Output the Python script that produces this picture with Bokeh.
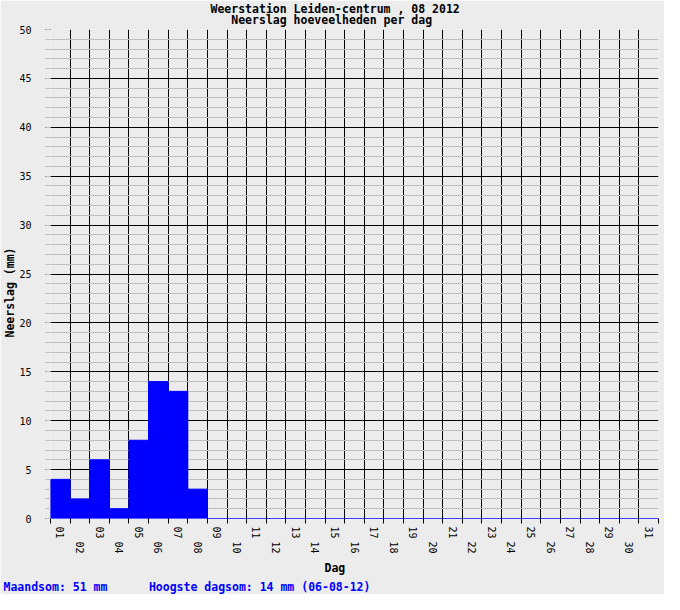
from bokeh.embed import file_html
from bokeh.models import FixedTicker, LinearAxis, Range1d, Title
from bokeh.plotting import figure
from bokeh.resources import INLINE

# neerslag per dag, augustus 2012 (mm)
dagen = list(range(1, 32))
neerslag = [4, 2, 6, 1, 8, 14, 13, 3, 0, 0,
            0, 0, 0, 0, 0, 0, 0, 0, 0, 0,
            0, 0, 0, 0, 0, 0, 0, 0, 0, 0, 0]
dag_labels = ["%02d" % d for d in dagen]
y_major = list(range(0, 51, 5))
y_minor = list(range(0, 51))

titel = "Weerstation Leiden-centrum , 08 2012"
subtitel = "Neerslag hoeveelheden per dag"
maand, jaar = "08", "12"

bg = "#ECECEC"
mono = "DejaVu Sans Mono"
nbsp = "\u00a0"

p = figure(width=664, height=594, x_range=Range1d(0.5, 31.5), y_range=Range1d(0, 50),
           output_backend="svg", toolbar_location=None,
           min_border_left=50, min_border_right=6, min_border_top=29, min_border_bottom=75,
           background_fill_color=bg, border_fill_color=bg)
p.outline_line_color = None

# grid: black day boundaries, black every 5 mm, grey every mm
grenzen = [d - 0.5 for d in dagen] + [dagen[-1] + 0.5]
p.xgrid.ticker = FixedTicker(ticks=grenzen)
p.xgrid.grid_line_color = "black"
p.ygrid.ticker = FixedTicker(ticks=y_major, minor_ticks=y_minor)
p.ygrid.grid_line_color = "black"
p.ygrid.minor_grid_line_color = "#BEBEBE"

p.vbar(x=dagen, top=neerslag, bottom=0, width=1, fill_color="#0000FF", line_color="#0000FF")

overrides = dict(zip(dagen, dag_labels))

# odd day labels (first row) with ticks on the boundaries
xa = p.xaxis[0]
xa.ticker = FixedTicker(ticks=dagen[0::2], minor_ticks=grenzen)
xa.major_label_overrides = overrides
xa.major_label_orientation = "vertical"
xa.major_tick_out = 5
xa.major_tick_in = 0
xa.major_tick_line_color = None
xa.minor_tick_out = 5
xa.minor_tick_in = 0
xa.minor_tick_line_color = "black"
xa.axis_line_color = None
xa.major_label_standoff = 3
xa.major_label_text_font = mono
xa.major_label_text_font_size = "10px"
xa.major_label_text_color = "black"

# even day labels (second row)
xb = LinearAxis(ticker=FixedTicker(ticks=dagen[1::2], minor_ticks=[]),
                major_label_overrides=overrides, major_label_orientation="vertical",
                axis_line_color=None, major_tick_line_color=None, minor_tick_line_color=None,
                major_tick_out=0, major_tick_in=0, major_label_standoff=0,
                major_label_text_font=mono, major_label_text_font_size="10px",
                major_label_text_color="black")
p.add_layout(xb, "below")

ya = p.yaxis[0]
ya.ticker = FixedTicker(ticks=y_major, minor_ticks=y_minor)
ya.axis_line_color = None
ya.major_tick_out = 5
ya.major_tick_in = 0
ya.major_tick_line_color = "black"
ya.minor_tick_out = 5
ya.minor_tick_in = 0
ya.minor_tick_line_color = "#BEBEBE"
ya.major_label_standoff = 14
ya.major_label_text_font = mono
ya.major_label_text_font_size = "10px"
ya.major_label_text_color = "black"


def stijl(t, color="black", standoff=0):
    t.text_font = mono
    t.text_font_style = "bold"
    t.text_font_size = "11.5px"
    t.text_color = color
    t.standoff = standoff
    return t


# two-line title, second line centred under the first
p.title.text = titel + "\n" + nbsp * 3 + subtitel
p.title.align = "left"
p.title.offset = 160
p.title.vertical_align = "top"
p.title.text_line_height = 0.8
stijl(p.title, standoff=2)

p.add_layout(stijl(Title(text="Neerslag (mm)", align="left", offset=181)), "left")
p.add_layout(stijl(Title(text="Dag", align="left", offset=274), standoff=4), "below")

som = sum(neerslag)
hoogste = max(neerslag)
hoogste_dag = dagen[neerslag.index(hoogste)]
voet = "Maandsom: %d mm" % som + nbsp * 6 + \
       "Hoogste dagsom: %d mm (%02d-%s-%s)" % (hoogste, hoogste_dag, maand, jaar)
p.add_layout(stijl(Title(text=voet, align="left", offset=-47), color="#0000FF", standoff=2), "below")

open("out.html", "w").write(file_html(p, INLINE))
